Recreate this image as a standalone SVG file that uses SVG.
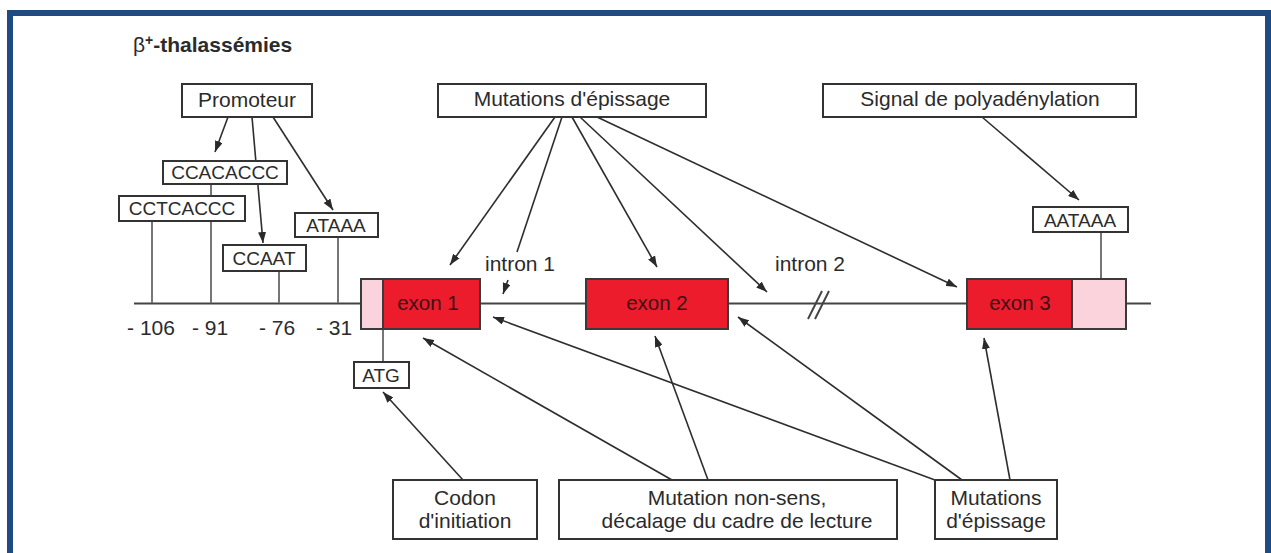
<svg xmlns="http://www.w3.org/2000/svg" width="1271" height="553" viewBox="0 0 1271 553">
  <defs>
    <marker id="ah" markerWidth="11" markerHeight="8" refX="11" refY="4" orient="auto" markerUnits="userSpaceOnUse">
      <path d="M0,0 L11,4 L0,8 z" fill="#2a2a2a"/>
    </marker>
    <style>
      text { font-family: "Liberation Sans", Arial, Helvetica, sans-serif; fill: #2b2b2b; }
      .lbl { font-size: 21px; text-anchor: middle; }
      .seq { font-size: 19px; text-anchor: middle; }
      .box { fill: #ffffff; stroke: #333333; stroke-width: 2; }
      .tick { stroke: #767676; stroke-width: 2; fill: none; }
      .gene { stroke: #444444; stroke-width: 2; fill: none; }
      .exon { fill: #ec1c2c; stroke: #3a3a3a; stroke-width: 2; }
      .utr { fill: #fbd3dc; stroke: #3a3a3a; stroke-width: 2; }
      .exlbl { font-size: 20.5px; text-anchor: middle; fill: #3a1216; }
      .conn line { stroke: #2e2e2e; stroke-width: 1.6; }
      .arr { marker-end: url(#ah); }
    </style>
  </defs>

  <rect width="1271" height="553" fill="#ffffff"/>
  <!-- blue frame -->
  <rect x="10" y="13" width="1258" height="600" fill="none" stroke="#1f4b82" stroke-width="6"/>

  <!-- title -->
  <text x="133" y="52" font-size="21"><tspan>β</tspan><tspan font-weight="bold" font-size="14" dy="-7">+</tspan><tspan font-weight="bold" dy="7">-thalassémies</tspan></text>

  <!-- gene backbone -->
  <g id="backbone">
    <line class="gene" x1="134" y1="303.5" x2="361" y2="303.5"/>
    <line class="gene" x1="480" y1="303.5" x2="586" y2="303.5"/>
    <line class="gene" x1="728" y1="303.5" x2="967" y2="303.5"/>
    <line class="gene" x1="1126" y1="303.5" x2="1151" y2="303.5"/>
    <line class="gene" x1="808" y1="319" x2="822" y2="291"/>
    <line class="gene" x1="815" y1="319" x2="829" y2="291"/>
  </g>

  <!-- promoter ticks -->
  <g id="ticks">
    <line class="tick" x1="152" y1="221" x2="152" y2="303"/>
    <line class="tick" x1="211" y1="184" x2="211" y2="303"/>
    <line class="tick" x1="279" y1="271" x2="279" y2="303"/>
    <line class="tick" x1="338" y1="237" x2="338" y2="303"/>
    <line class="tick" x1="383" y1="329" x2="383" y2="362"/>
    <line class="tick" x1="1101" y1="232" x2="1101" y2="279"/>
  </g>

  <!-- connectors -->
  <g id="connectors" class="conn">
    <line class="arr" x1="228" y1="117" x2="215" y2="152"/>
    <line class="arr" x1="252" y1="117" x2="263" y2="243"/>
    <line class="arr" x1="273" y1="117" x2="333" y2="210"/>

    <line class="arr" x1="555" y1="117" x2="450" y2="265"/>
    <line x1="562" y1="117" x2="517" y2="252"/>
    <line class="arr" x1="508" y1="280" x2="503" y2="294"/>
    <line class="arr" x1="572" y1="117" x2="657" y2="267"/>
    <line class="arr" x1="580" y1="117" x2="767" y2="292"/>
    <line class="arr" x1="597" y1="117" x2="957" y2="287"/>

    <line class="arr" x1="982" y1="117" x2="1079" y2="200"/>

    <line class="arr" x1="463" y1="480" x2="383" y2="392"/>
    <line class="arr" x1="672" y1="480" x2="423" y2="338"/>
    <line class="arr" x1="708" y1="480" x2="655" y2="336"/>

    <line class="arr" x1="935" y1="480" x2="493" y2="317"/>
    <line class="arr" x1="962" y1="480" x2="738" y2="317"/>
    <line class="arr" x1="1010" y1="480" x2="984" y2="338"/>
  </g>

  <!-- exons -->
  <g id="exon1">
    <rect class="utr" x="361" y="279" width="22" height="50"/>
    <rect class="exon" x="383" y="279" width="97" height="50"/>
    <text class="exlbl" x="428" y="310">exon 1</text>
  </g>
  <g id="exon2">
    <rect class="exon" x="586" y="279" width="142" height="50"/>
    <text class="exlbl" x="657" y="310">exon 2</text>
  </g>
  <g id="exon3">
    <rect class="exon" x="967" y="279" width="105" height="50"/>
    <rect class="utr" x="1072" y="279" width="54" height="50"/>
    <text class="exlbl" x="1020" y="310">exon 3</text>
  </g>

  <!-- intron labels -->
  <g id="intron1"><text class="lbl" x="520" y="271">intron 1</text></g>
  <g id="intron2"><text class="lbl" x="810" y="271">intron 2</text></g>

  <!-- positions -->
  <g id="positions">
    <text class="lbl" x="151" y="335">- 106</text>
    <text class="lbl" x="210" y="335">- 91</text>
    <text class="lbl" x="277" y="335">- 76</text>
    <text class="lbl" x="334" y="335">- 31</text>
  </g>

  <!-- label boxes -->
  <g id="promoteur">
    <rect class="box" x="182" y="84" width="130" height="33"/>
    <text class="lbl" x="247" y="107">Promoteur</text>
  </g>
  <g id="epissage-top">
    <rect class="box" x="438" y="84" width="268" height="33"/>
    <text class="lbl" x="572" y="106">Mutations d'épissage</text>
  </g>
  <g id="polyA">
    <rect class="box" x="823" y="84" width="313" height="33"/>
    <text class="lbl" x="980" y="106">Signal de polyadénylation</text>
  </g>
  <g id="ccacaccc">
    <rect class="box" x="163" y="161" width="124" height="23"/>
    <text class="seq" x="225" y="179">CCACACCC</text>
  </g>
  <g id="cctcaccc">
    <rect class="box" x="119" y="196" width="126" height="25"/>
    <text class="seq" x="182" y="215">CCTCACCC</text>
  </g>
  <g id="ccaat">
    <rect class="box" x="223" y="245" width="83" height="26"/>
    <text class="seq" x="264" y="265">CCAAT</text>
  </g>
  <g id="ataaa">
    <rect class="box" x="295" y="213" width="83" height="24"/>
    <text class="seq" x="336" y="232">ATAAA</text>
  </g>
  <g id="aataaa">
    <rect class="box" x="1033" y="207" width="95" height="25"/>
    <text class="seq" x="1080" y="227">AATAAA</text>
  </g>
  <g id="atg">
    <rect class="box" x="354" y="362" width="55" height="26"/>
    <text class="seq" x="381" y="382">ATG</text>
  </g>
  <g id="codon">
    <rect class="box" x="393" y="480" width="144" height="59"/>
    <text class="lbl" x="465" y="505">Codon</text>
    <text class="lbl" x="465" y="528">d'initiation</text>
  </g>
  <g id="nonsens">
    <rect class="box" x="559" y="480" width="338" height="59"/>
    <text class="lbl" x="737" y="505">Mutation non-sens,</text>
    <text class="lbl" x="737" y="528">décalage du cadre de lecture</text>
  </g>
  <g id="epissage-bottom">
    <rect class="box" x="935" y="480" width="122" height="59"/>
    <text class="lbl" x="996" y="505">Mutations</text>
    <text class="lbl" x="996" y="528">d'épissage</text>
  </g>
</svg>
